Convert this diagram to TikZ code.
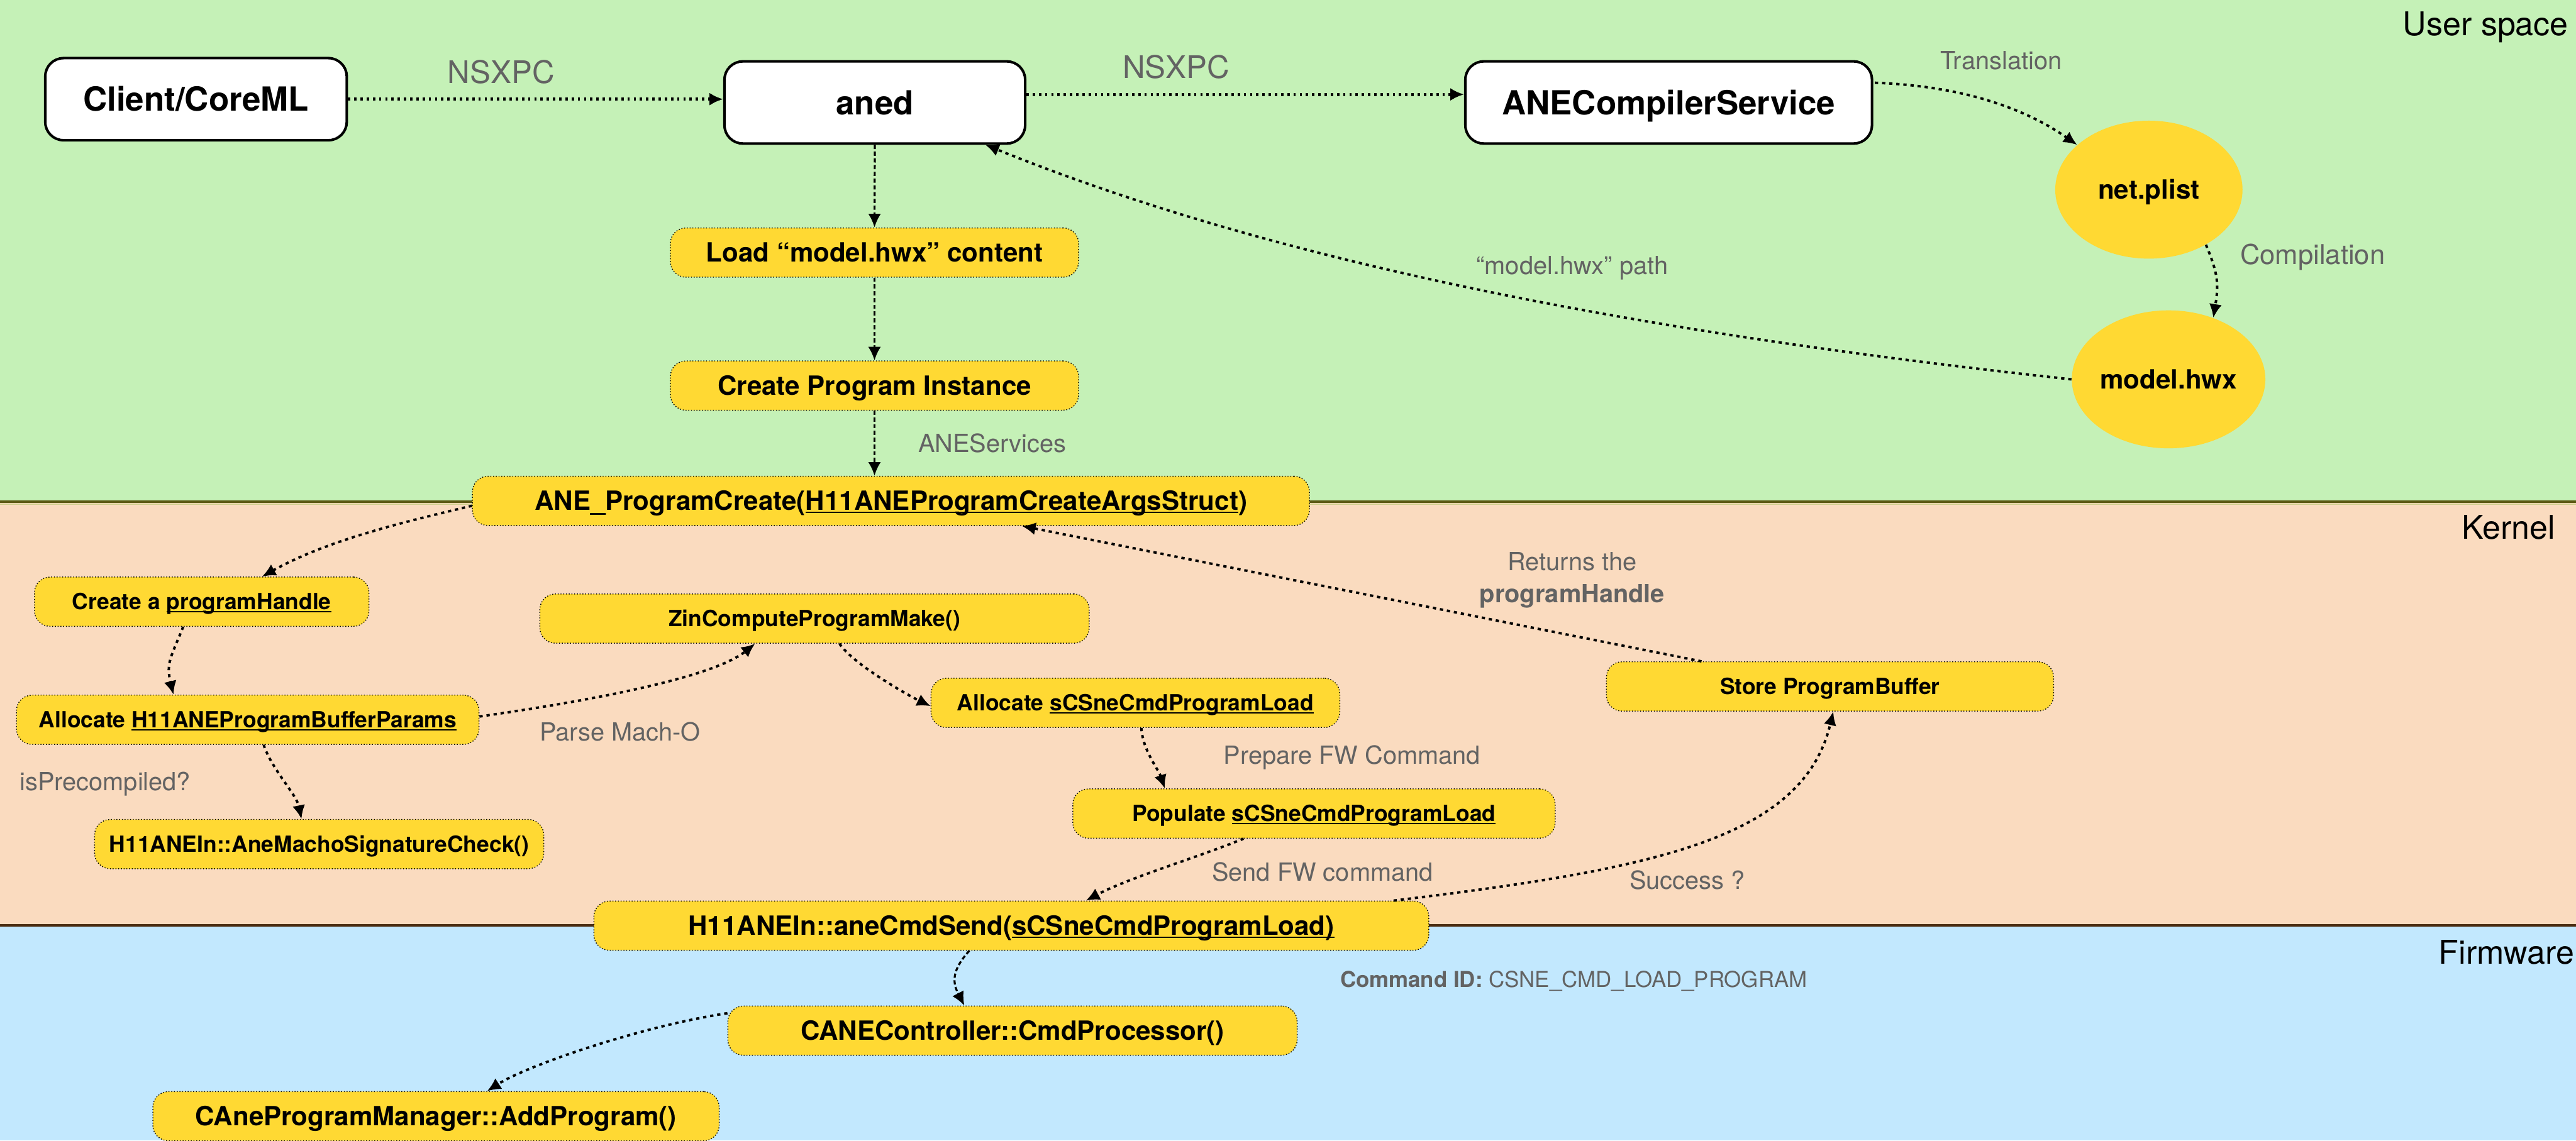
\documentclass[tikz,border=0pt]{standalone}
\usepackage{fontspec}
\setmainfont{TeX Gyre Heros}
\usetikzlibrary{arrows.meta,calc,shapes.geometric}

\definecolor{userbg}{HTML}{C5F1B7}
\definecolor{kernbg}{HTML}{FADBBF}
\definecolor{fwbg}{HTML}{C2E8FE}
\definecolor{ylw}{HTML}{FFD933}
\definecolor{lblgray}{HTML}{636363}
\definecolor{olivel}{HTML}{5C5914}
\definecolor{olivelight}{HTML}{CFCF8E}
\definecolor{brownl}{HTML}{4A2C10}

\newcommand{\unitpx}{0.03162cm}
% underline set just below the baseline, crossing the descenders
\newcommand{\undl}[1]{\leavevmode\setbox0=\hbox{#1}\rlap{\rule[-0.11em]{\wd0}{0.055em}}\box0}
\newcommand{\fbig}{\bfseries\fontsize{18.2}{21}\selectfont}
\newcommand{\fmid}{\bfseries\fontsize{14.5}{17}\selectfont}
\newcommand{\fsmall}{\bfseries\fontsize{12.2}{14}\selectfont}

\begin{document}
\begin{tikzpicture}[x=0.03162cm, y=-0.03162cm,
  bw/.style={minimum width=#1*\unitpx},
  wbox/.style={draw, line width=1.4pt, fill=white, rounded corners=10pt,
    minimum height=50*\unitpx, inner sep=0pt, font=\fbig,
    text height=13.1pt, text depth=0pt},
  ybox/.style={draw, densely dotted, line width=0.5pt, fill=ylw,
    rounded corners=8.5pt, minimum height=30*\unitpx, inner sep=0pt},
  ymid/.style={ybox, font=\fmid, text height=10.4pt, text depth=0pt},
  ysmall/.style={ybox, font=\fsmall, text height=8.76pt, text depth=0pt},
  blob/.style={ellipse, fill=ylw, minimum width=114*\unitpx,
    minimum height=84*\unitpx, inner sep=0pt, font=\fmid,
    text height=10.4pt, text depth=0pt},
  lblbase/.style={text=lblgray, inner sep=0pt},
  lbl/.style={lblbase, font=\fontsize{13.7}{16}\selectfont,
    text height=9.85pt, text depth=0pt},
  band/.style={inner sep=0pt, anchor=east, font=\fontsize{17.9}{21}\selectfont,
    text height=12.85pt, text depth=0pt},
  flow/.style={-{Latex[length=7.5pt,width=7pt]}, line width=1.35pt,
    dash pattern=on 1.8pt off 2.1pt},
  topflow/.style={flow, line width=1.7pt, dash pattern=on 1.3pt off 2.1pt},
  dashflow/.style={-{Latex[length=7.5pt,width=7pt]}, line width=1.1pt,
    dash pattern=on 2.3pt off 1.4pt}]

\useasboundingbox (0,0) rectangle (1568,694.5);

% layers
\fill[userbg] (0,0) rectangle (1568,305.5);
\fill[kernbg] (0,305.5) rectangle (1568,563.5);
\fill[fwbg] (0,563.5) rectangle (1568,694.5);
\draw[olivel, line width=1.4pt] (0,305.5) -- (1568,305.5);
\draw[olivelight, line width=0.7pt] (0,306.9) -- (1568,306.9);
\draw[brownl, line width=1.4pt] (0,563.5) -- (1568,563.5);

\node[band] (lusr) at (1563.5,14.6) {User space};
\node[band] (lker) at (1555.6,321) {Kernel};
\node[band] (lfw) at (1567,580) {Firmware};

% user space
\node[wbox, bw=183.5] (client) at (119.3,60.4) {Client/CoreML};
\node[wbox, bw=183] (aned) at (532.5,62.4) {aned};
\node[wbox, bw=247.5] (acs) at (1015.7,62.4) {ANECompilerService};
\node[blob] (plist) at (1308,115.5) {net.plist};
\node[blob] (hwx) at (1320,231) {model.hwx};
\node[ymid, bw=248.5] (load) at (532.3,153.8) {Load “model.hwx” content};
\node[ymid, bw=248.5] (inst) at (532.3,234.8) {Create Program Instance};

% kernel
\node[ymid, bw=509.5] (pcreate) at (542.3,305) {ANE\_ProgramCreate(\undl{H11ANEProgramCreateArgsStruct})};
\node[ysmall, bw=203.6] (handle) at (122.8,366.4) {Create a \undl{programHandle}};
\node[ysmall, bw=281.5] (bufp) at (150.8,438.3) {Allocate \undl{H11ANEProgramBufferParams}};
\node[ysmall, bw=273.4] (sigchk) at (194.3,514) {H11ANEIn::AneMachoSignatureCheck()};
\node[ysmall, bw=334.4] (zin) at (495.8,376.7) {ZinComputeProgramMake()};
\node[ysmall, bw=248.8] (alloc) at (691.1,428) {Allocate \undl{sCSneCmdProgramLoad}};
\node[ysmall, bw=293.6] (popl) at (799.8,495.4) {Populate \undl{sCSneCmdProgramLoad}};
\node[ysmall, bw=272.2] (store) at (1113.9,418) {Store ProgramBuffer};
\node[ymid, bw=508.2] (send) at (615.6,563.7) {H11ANEIn::aneCmdSend(\undl{sCSneCmdProgramLoad)}};

% firmware
\node[ymid, bw=346.5] (cmdp) at (616.3,627.6) {CANEController::CmdProcessor()};
\node[ymid, bw=344.7] (addp) at (265.4,679.7) {CAneProgramManager::AddProgram()};

% connectors
\draw[topflow] (client.east) -- (client.east -| aned.west);
\draw[topflow] ($(aned.east)+(0,-4.9)$) -- ($(acs.west)+(0,-4.9)$);
\draw[flow] ($(acs.east)+(1,-12)$) .. controls +(45,1.6) and +(-36.9,-25.8) .. (plist.148);
\draw[flow] (plist.-44) .. controls +(7.8,18.4) and +(3.2,-19.8) .. (hwx.54);
\draw[flow] (hwx.west) .. controls +(-248.5,-27) and +(185.4,75) .. ($(aned.south east)+(-25,0)$);
\draw[dashflow] (aned.south) -- (load.north);
\draw[dashflow] (load.south) -- (inst.north);
\draw[dashflow] (inst.south) -- (inst.south |- pcreate.north);
\draw[flow] ($(pcreate.west)+(0,3)$) .. controls +(-43.8,10.4) and +(39.3,-21.9) .. ($(handle.north)+(36.7,0)$);
\draw[flow] ($(handle.south)+(-11.3,0)$) .. controls +(-7.4,18.6) and +(-4.7,-19.4) .. ($(bufp.north)+(-45.2,0)$);
\draw[flow] ($(bufp.south)+(9.7,0)$) .. controls +(5,15) and +(-3,-15) .. ($(sigchk.north)+(-10.8,0)$);
\draw[flow] ($(bufp.east)+(0,-2)$) .. controls +(59.4,-8.4) and +(-27.3,21.7) .. ($(zin.south)+(-36.2,0)$);
\draw[flow] ($(zin.south)+(15.2,0)$) .. controls +(8.3,12.5) and +(-13.5,-6.5) .. ($(alloc.west)+(0,2)$);
\draw[flow] ($(alloc.south)+(3.6,0)$) .. controls +(1,14) and +(-4,-12) .. ($(popl.north)+(-90.8,0)$);
\draw[flow] ($(popl.south)+(-42.8,0)$) .. controls +(-27.8,11.4) and +(26.4,-14.1) .. ($(send.north)+(45.4,0)$);
\draw[flow] ($(send.north east)+(-21.7,0)$) .. controls +(158.9,-19.2) and +(-18.4,77.6) .. ($(store.south)+(2,0)$);
\draw[flow] ($(store.north)+(-78.2,0)$) -- ($(pcreate.south)+(79.7,0)$);
\draw[dashflow] ($(send.south)+(-25.6,0)$) .. controls +(-10.7,11.8) and +(-7.4,-14.2) .. ($(cmdp.north)+(-29.3,0)$);
\draw[flow] ($(cmdp.west)+(0,-10.6)$) .. controls +(-49.5,7.3) and +(25.2,-16.2) .. ($(addp.north)+(31.1,0)$);

% connector labels
\node[lbl, font=\fontsize{17}{20}\selectfont, text height=12.2pt] (nsxpca) at (305,44) {NSXPC};
\node[lbl, font=\fontsize{17}{20}\selectfont, text height=12.2pt] (nsxpcb) at (716,41) {NSXPC};
\node[lbl] (ltrans) at (1218,37) {Translation};
\node[lbl, font=\fontsize{15}{18}\selectfont, text height=10.8pt] (lcomp) at (1407.7,154.8) {Compilation};
\node[lbl] (lpath) at (957,161.6) {“model.hwx” path};
\node[lbl] (lsvc) at (604,270) {ANEServices};
\node[lblbase, align=center, font=\fontsize{13.7}{17.55}\selectfont] (lret) at (957,353.35) {Returns the\\\textbf{programHandle}};
\node[lbl] (lmach) at (377.5,445.6) {Parse Mach-O};
\node[lbl] (lprec) at (64,476) {isPrecompiled?};
\node[lbl] (lprep) at (823,460) {Prepare FW Command};
\node[lbl] (lsendfw) at (805,531) {Send FW command};
\node[lbl] (lsucc) at (1027,536) {Success ?};
\node[lbl, anchor=west, font=\fontsize{12}{14}\selectfont, text height=8.6pt] (lcmdid) at (815.6,596.5) {\textbf{Command ID:} CSNE\_CMD\_LOAD\_PROGRAM};

\end{tikzpicture}
\end{document}
